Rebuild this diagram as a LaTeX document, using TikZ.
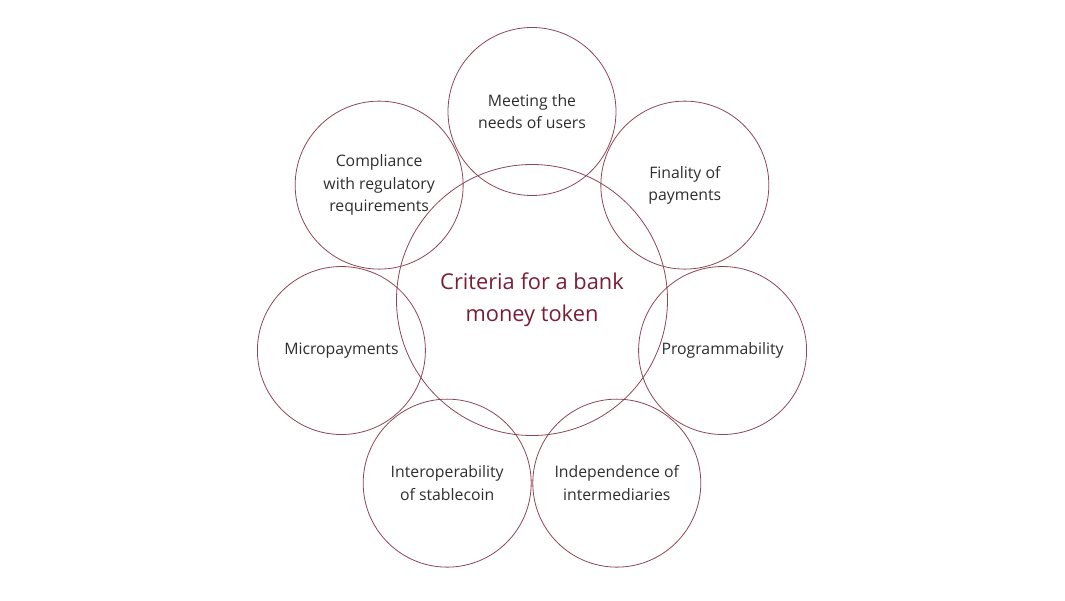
\documentclass[tikz,border=0pt]{standalone}
\usepackage{fontspec}
\setmainfont{Open Sans}
\usepackage{xcolor}
\usetikzlibrary{positioning}

\definecolor{ringred}{HTML}{8C4655}
\definecolor{titlered}{HTML}{7A1E36}
\definecolor{labelgray}{HTML}{2E2E2E}

\begin{document}
\begin{tikzpicture}[x=1pt, y=1pt,
  crit/.style={draw=ringred, line width=0.8pt, circle, inner sep=0pt, minimum size=168pt, align=center, text=labelgray, font=\fontsize{15.8}{22.5}\selectfont},
  core/.style={draw=ringred, line width=0.8pt, circle, inner sep=0pt, minimum size=271pt, align=center, text=titlered, font=\fontsize{21.8}{32}\selectfont}
]
\useasboundingbox (-532, -293) rectangle (533, 307);
\node[core] (token) at (0, 7) {Criteria for a bank\\money token};
\node[crit] (users) at (90:195.5) {Meeting the\\needs of users};
\node[crit] (finality) at (38.57:195.5) {Finality of\\payments};
\node[crit] (program) at (-12.86:195.5) {Programmability};
\node[crit] (independ) at (-64.29:195.5) {Independence of\\intermediaries};
\node[crit] (interop) at (-115.71:195.5) {Interoperability\\of stablecoin};
\node[crit] (micro) at (-167.14:195.5) {Micropayments};
\node[crit] (comply) at (141.43:195.5) {Compliance\\with regulatory\\requirements};
\end{tikzpicture}
\end{document}
